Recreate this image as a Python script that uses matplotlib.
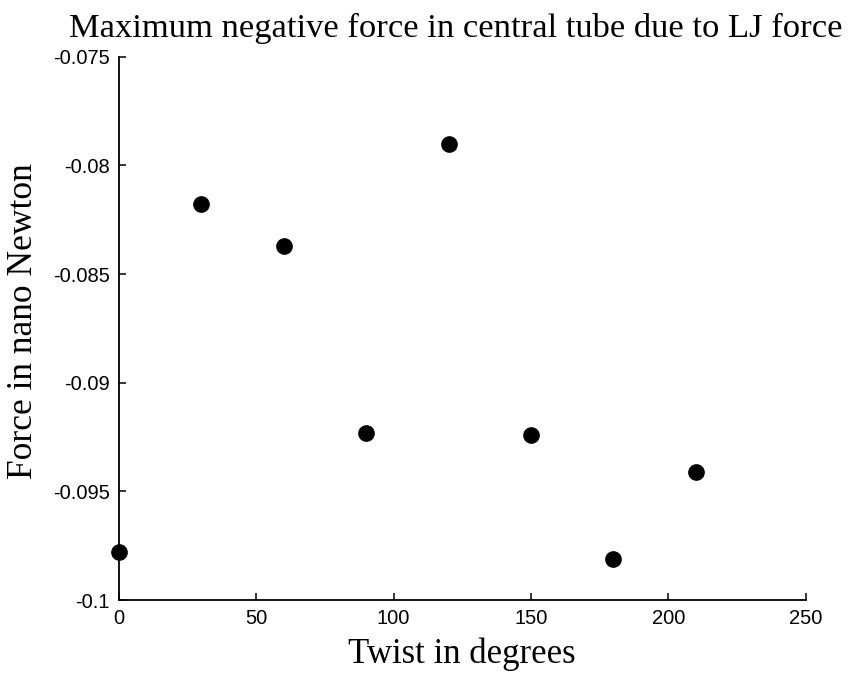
import matplotlib
matplotlib.use("Agg")
import matplotlib.pyplot as plt
from matplotlib.ticker import FuncFormatter

# Dane
twist_deg = [0, 30, 60, 90, 120, 150, 180, 210]
force_nN = [-0.0978, -0.0818, -0.0837, -0.0923, -0.0790, -0.0924, -0.0981, -0.0941]

x_ticks = [0, 50, 100, 150, 200, 250]
y_ticks = [-0.1, -0.095, -0.09, -0.085, -0.08, -0.075]

serif = "Liberation Serif"
sans = "Liberation Sans"

fig = plt.figure(figsize=(8.49, 6.75), dpi=100)
ax = fig.add_axes([0.140, 0.111, 0.809, 0.805])

ax.plot(twist_deg, force_nN, "o", color="black", markersize=11, clip_on=False)

ax.set_xlim(0, 250)
ax.set_ylim(-0.1, -0.075)
ax.set_xticks(x_ticks)
ax.set_yticks(y_ticks)
ax.yaxis.set_major_formatter(FuncFormatter(lambda v, p: f"{v:g}"))

for side in ("top", "right"):
    ax.spines[side].set_visible(False)
for side in ("left", "bottom"):
    ax.spines[side].set_linewidth(1.3)

ax.tick_params(direction="in", length=5, width=1.1, labelsize=14.5, pad=6.5)
for lbl in ax.get_xticklabels() + ax.get_yticklabels():
    lbl.set_fontfamily(sans)

# tytuł lekko w lewo, tak jak w oryginale
ax.set_title("Maximum negative force in central tube due to LJ force",
             fontfamily=serif, fontsize=24.8, pad=14, x=0.49)
ax.set_xlabel("Twist in degrees", fontfamily=serif, fontsize=25, labelpad=7)
# etykieta osi Y umieszczona ręcznie (trochę wyżej niż środek osi)
fig.text(0.028, 0.524, "Force in nano Newton", fontfamily=serif, fontsize=25.5,
         rotation=90, ha="center", va="center")

fig.savefig("out.png", dpi=100)
plt.close(fig)
